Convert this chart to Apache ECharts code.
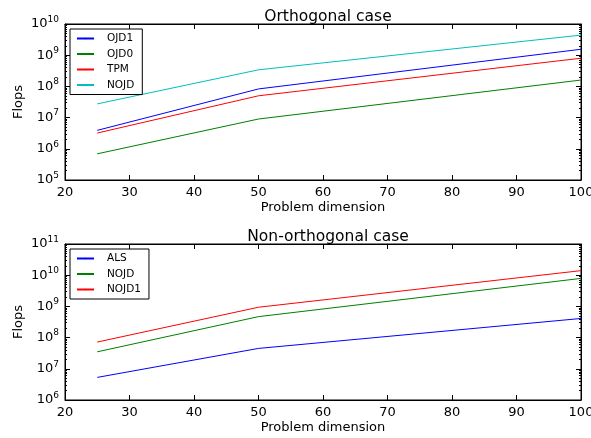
<!DOCTYPE html>
<html>
<head>
<meta charset="utf-8">
<script src="https://cdn.jsdelivr.net/npm/echarts@6/dist/echarts.min.js"></script>
<style>
  html, body { margin: 0; padding: 0; background: #fff; }
  #main { width: 591px; height: 438px; }
</style>
</head>
<body>
<div id="main"></div>
<script>
// problem dimension
var dims = [25, 50, 100];

// orthogonal case
var ojd1 = [3.9e6, 8.3e7, 1.55e9];
var ojd0 = [6.9e5, 9.0e6, 1.6e8];
var tpm = [3.2e6, 5.0e7, 8.0e8];
var nojdOrth = [2.75e7, 3.4e8, 4.4e9];

// non-orthogonal case
var als = [5.3e6, 4.5e7, 4.1e8];
var nojd = [3.5e7, 4.7e8, 7.9e9];
var nojd1 = [7.2e7, 9.4e8, 1.4e10];

var font = 'DejaVu Sans';
var chart = echarts.init(document.getElementById('main'));

function pairs(vals) {
  return dims.map(function (d, i) { return [d, vals[i]]; });
}

function powLabel(v) {
  var e = Math.round(Math.log10(v));
  return '{b|10}{e|' + e + '}';
}

var labelRich = {
  b: { fontFamily: font, fontSize: 13, color: '#000', lineHeight: 16, verticalAlign: 'middle' },
  e: { fontFamily: font, fontSize: 9, color: '#000', lineHeight: 16, verticalAlign: 'middle', padding: [0, 0, 9, 0] }
};

function xAx(grid, pos, show) {
  return {
    type: 'value', gridIndex: grid, position: pos, min: 20, max: 100, interval: 10,
    axisLine: { onZero: false, lineStyle: { color: '#000', width: 1 } },
    axisTick: { inside: true, length: 5, lineStyle: { color: '#000' } },
    axisLabel: { show: show, color: '#000', fontFamily: font, fontSize: 13, margin: 6 },
    splitLine: { show: false },
    name: show ? 'Problem dimension' : '', nameLocation: 'middle', nameGap: 21,
    nameMoveOverlap: false,
    nameTextStyle: { color: '#000', fontFamily: font, fontSize: 13 }
  };
}

function yAx(grid, pos, show, lo, hi) {
  return {
    type: 'log', logBase: 10, gridIndex: grid, position: pos, min: lo, max: hi,
    splitNumber: Math.round(Math.log10(hi / lo)),
    axisLine: { onZero: false, lineStyle: { color: '#000', width: 1 } },
    axisTick: { inside: true, length: 5, lineStyle: { color: '#000' } },
    minorTick: { show: true, splitNumber: 9, length: 2, lineStyle: { color: '#000' } },
    axisLabel: { show: show, formatter: powLabel, rich: labelRich, margin: 6 },
    splitLine: { show: false },
    name: show ? 'Flops' : '', nameLocation: 'middle', nameGap: 40,
    nameMoveOverlap: false,
    nameTextStyle: { color: '#000', fontFamily: font, fontSize: 13 }
  };
}

function line(name, vals, color, xi, yi) {
  return {
    name: name, type: 'line', xAxisIndex: xi, yAxisIndex: yi,
    data: pairs(vals), symbol: 'none',
    lineStyle: { color: color, width: 1 }, itemStyle: { color: color }
  };
}

function legendBox(top, names) {
  return {
    left: 70, top: top, orient: 'vertical',
    data: names,
    itemWidth: 17, itemHeight: 2, itemGap: 4.5, padding: [4, 8, 4, 6],
    borderColor: '#000', borderWidth: 1, backgroundColor: '#fff',
    textStyle: { fontFamily: font, fontSize: 10.5, color: '#000', padding: [0, 0, 0, 8] },
    formatter: function (n) { return n.trim(); }
  };
}

var titleStyle = { fontFamily: font, fontSize: 15.5, fontWeight: 'normal', color: '#000' };

var option = {
  backgroundColor: '#fff',
  animation: false,
  title: [
    { text: 'Orthogonal case', left: 323, top: 4, textAlign: 'center', textStyle: titleStyle },
    { text: 'Non-orthogonal case', left: 323, top: 224, textAlign: 'center', textStyle: titleStyle }
  ],
  legend: [
    legendBox(29, ['OJD1', 'OJD0', 'TPM', 'NOJD']),
    legendBox(249, ['ALS', 'NOJD ', 'NOJD1'])
  ],
  grid: [
    { left: 65, top: 24, width: 516, height: 156, show: true, borderColor: '#000', borderWidth: 1,
      containLabel: false, outerBoundsMode: 'none' },
    { left: 65, top: 244, width: 516, height: 156, show: true, borderColor: '#000', borderWidth: 1,
      containLabel: false, outerBoundsMode: 'none' }
  ],
  xAxis: [xAx(0, 'bottom', true), xAx(0, 'top', false), xAx(1, 'bottom', true), xAx(1, 'top', false)],
  yAxis: [yAx(0, 'left', true, 1e5, 1e10), yAx(0, 'right', false, 1e5, 1e10),
          yAx(1, 'left', true, 1e6, 1e11), yAx(1, 'right', false, 1e6, 1e11)],
  series: [
    line('OJD1', ojd1, '#0000ff', 0, 0),
    line('OJD0', ojd0, '#008000', 0, 0),
    line('TPM', tpm, '#ff0000', 0, 0),
    line('NOJD', nojdOrth, '#00bfbf', 0, 0),
    line('ALS', als, '#0000ff', 2, 2),
    line('NOJD ', nojd, '#008000', 2, 2),
    line('NOJD1', nojd1, '#ff0000', 2, 2)
  ]
};

chart.setOption(option);
</script>
</body>
</html>
